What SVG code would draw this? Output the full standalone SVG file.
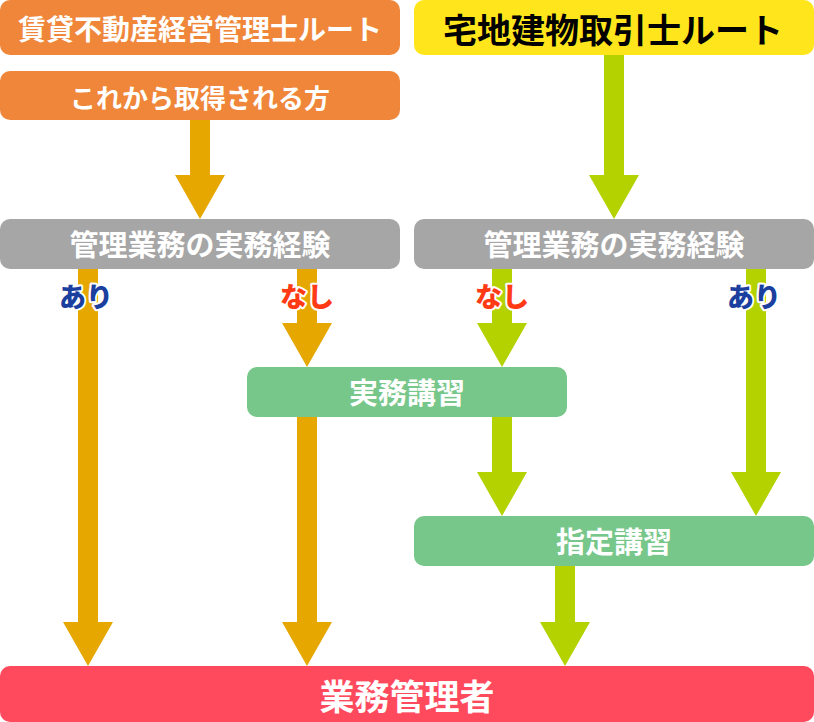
<svg xmlns="http://www.w3.org/2000/svg" width="814" height="722" viewBox="0 0 814 722">
<style>
.t{font-family:"Noto Sans CJK JP","Noto Sans",sans-serif;font-weight:700;text-anchor:middle;dominant-baseline:central}
.w{fill:#ffffff}
.or{fill:#E6A800}
.gr{fill:#B4D100}
.lbl{font-family:"Noto Sans CJK JP","Noto Sans",sans-serif;font-weight:900;font-size:27px;text-anchor:middle;dominant-baseline:central;stroke:#ffffff;stroke-width:4;stroke-linejoin:round;paint-order:stroke}
.ari{fill:#1B3F9E}
.nas{fill:#FF3A14}
</style>
<g id="connectors">
  <polygon class="or" points="190,120 210,120 210,175 225,175 200,219 175,175 190,175"/>
  <polygon class="gr" points="604,55 624,55 624,175 639,175 614,219 589,175 604,175"/>
  <polygon class="or" points="78,269 98,269 98,622 113,622 88,666 63,622 78,622"/>
  <polygon class="or" points="297,269 317,269 317,323 332,323 307,367 282,323 297,323"/>
  <polygon class="or" points="297,417 317,417 317,622 332,622 307,666 282,622 297,622"/>
  <polygon class="gr" points="492,269 512,269 512,323 527,323 502,367 477,323 492,323"/>
  <polygon class="gr" points="492,417 512,417 512,472 527,472 502,516 477,472 492,472"/>
  <polygon class="gr" points="746,269 766,269 766,472 781,472 756,516 731,472 746,472"/>
  <polygon class="gr" points="555,566 575,566 575,622 590,622 565,666 540,622 555,622"/>
  <text class="lbl ari" x="86" y="295">あり</text>
  <text class="lbl nas" x="307" y="295">なし</text>
  <text class="lbl nas" x="502" y="295">なし</text>
  <text class="lbl ari" x="754" y="295">あり</text>
</g>
<g id="route-kanri">
  <rect x="0" y="0" width="400" height="55" rx="10" fill="#EF863A"/>
  <text class="t w" x="200" y="28" font-size="28">賃貸不動産経営管理士ルート</text>
</g>
<g id="korekara">
  <rect x="0" y="71" width="400" height="49" rx="10" fill="#EF863A"/>
  <text class="t w" x="200" y="96" font-size="26">これから取得される方</text>
</g>
<g id="route-takken">
  <rect x="414" y="0" width="400" height="55" rx="10" fill="#FEE51C"/>
  <text class="t" x="613" y="28" font-size="34" fill="#000000">宅地建物取引士ルート</text>
</g>
<g id="keiken-left">
  <rect x="0" y="219" width="400" height="50" rx="10" fill="#A6A6A6"/>
  <text class="t w" x="200" y="243" font-size="29">管理業務の実務経験</text>
</g>
<g id="keiken-right">
  <rect x="414" y="219" width="400" height="50" rx="10" fill="#A6A6A6"/>
  <text class="t w" x="614" y="243" font-size="29">管理業務の実務経験</text>
</g>
<g id="jitsumu">
  <rect x="247" y="367" width="320" height="50" rx="10" fill="#77C68A"/>
  <text class="t w" x="407" y="391" font-size="29">実務講習</text>
</g>
<g id="shitei">
  <rect x="414" y="516" width="400" height="50" rx="10" fill="#77C68A"/>
  <text class="t w" x="614" y="540" font-size="29">指定講習</text>
</g>
<g id="gyomu">
  <rect x="0" y="666" width="814" height="56" rx="10" fill="#FF4A5E"/>
  <text class="t w" x="407" y="694" font-size="35">業務管理者</text>
</g>
</svg>
